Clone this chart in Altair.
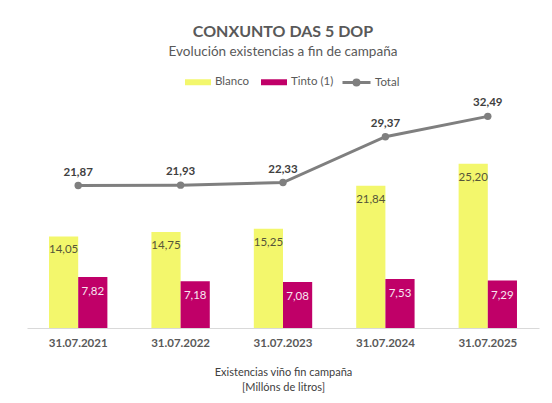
import altair as alt
import pandas as pd

cats = ["31.07.2021", "31.07.2022", "31.07.2023", "31.07.2024", "31.07.2025"]
blanco = [14.05, 14.75, 15.25, 21.84, 25.20]
tinto = [7.82, 7.18, 7.08, 7.53, 7.29]
total = [21.87, 21.93, 22.33, 29.37, 32.49]
series = ["Blanco", "Tinto (1)"]

FONT = "Lato"
GRAY_TXT = "#595959"

bars_df = pd.DataFrame(
    [{"cat": c, "serie": "Blanco", "value": v} for c, v in zip(cats, blanco)]
    + [{"cat": c, "serie": "Tinto (1)", "value": v} for c, v in zip(cats, tinto)]
)
line_df = pd.DataFrame({"cat": cats, "value": total, "s": ["Total"] * len(cats)})

x_enc = alt.X(
    "cat:N",
    sort=cats,
    scale=alt.Scale(paddingInner=0.43, paddingOuter=0.215),
    axis=alt.Axis(
        labelAngle=0,
        labelFont=FONT,
        labelFontWeight="bold",
        labelFontSize=11.5,
        labelColor=GRAY_TXT,
        labelPadding=9,
        domainColor="#D9D9D9",
        domainWidth=1,
        ticks=False,
        grid=False,
        title=["Existencias viño fin campaña", "[Millóns de litros]"],
        titleFont=FONT,
        titleFontWeight="normal",
        titleFontSize=11,
        titleColor="#404040",
        titlePadding=18,
        titleLineHeight=15,
    ),
)
y_enc = alt.Y("value:Q", scale=alt.Scale(domain=[0, 35], nice=False), axis=None)
xoff = alt.XOffset("serie:N", sort=series, scale=alt.Scale(paddingInner=0, paddingOuter=0))

label_expr = "replace(format(datum.value, '.2f'), '.', ',')"

bars = alt.Chart(bars_df).mark_bar().encode(
    x=x_enc,
    y=y_enc,
    xOffset=xoff,
    color=alt.Color(
        "serie:N",
        sort=series,
        scale=alt.Scale(domain=series, range=["#F3F76C", "#C00068"]),
        legend=alt.Legend(
            title=None,
            orient="none",
            direction="horizontal",
            columns=2,
            legendX=158,
            legendY=-31,
            symbolType="M-1,-0.23H1V0.23H-1Z",
            symbolSize=676,
            symbolStrokeWidth=0,
            labelFont=FONT,
            labelFontSize=11.5,
            labelColor=GRAY_TXT,
            labelOffset=4,
            columnPadding=11,
        ),
    ),
)

blanco_txt = (
    alt.Chart(bars_df)
    .transform_filter("datum.serie == 'Blanco'")
    .transform_calculate(label=label_expr)
    .mark_text(dy=14, baseline="middle", font=FONT, fontSize=11.5, color="#55553A")
    .encode(x=x_enc, y=y_enc, xOffset=xoff, text="label:N")
)
tinto_txt = (
    alt.Chart(bars_df)
    .transform_filter("datum.serie == 'Tinto (1)'")
    .transform_calculate(label=label_expr)
    .mark_text(dy=15, baseline="middle", font=FONT, fontSize=11.5, color="#F7E6F0")
    .encode(x=x_enc, y=y_enc, xOffset=xoff, text="label:N")
)

line = alt.Chart(line_df).mark_line(strokeWidth=3).encode(
    x=x_enc,
    y=y_enc,
    stroke=alt.Stroke(
        "s:N",
        scale=alt.Scale(domain=["Total"], range=["#7F7F7F"]),
        legend=alt.Legend(
            title=None,
            orient="none",
            legendX=314,
            legendY=-33,
            symbolType="M-1,0H1M0.18,0A0.18,0.18 0 1,1 -0.18,0A0.18,0.18 0 1,1 0.18,0",
            symbolSize=784,
            symbolStrokeWidth=3,
            symbolStrokeColor="#7F7F7F",
            symbolFillColor="#7F7F7F",
            labelFont=FONT,
            labelFontSize=11.5,
            labelColor=GRAY_TXT,
            labelOffset=3,
        ),
    ),
)
pts = alt.Chart(line_df).mark_circle(size=55, color="#7F7F7F", opacity=1).encode(x=x_enc, y=y_enc)
total_txt = (
    alt.Chart(line_df)
    .transform_calculate(label=label_expr)
    .mark_text(dy=-13, baseline="middle", font=FONT, fontSize=11.5, fontWeight="bold", color="#404040")
    .encode(x=x_enc, y=y_enc, text="label:N")
)

chart = (
    alt.layer(bars, blanco_txt, tinto_txt, line, pts, total_txt)
    .properties(
        width=512,
        height=228,
        autosize=alt.AutoSizeParams(type="none"),
        padding={"left": 19, "top": 92, "right": 5, "bottom": 65},
        title=alt.TitleParams(
            text="CONXUNTO DAS 5 DOP",
            subtitle="Evolución existencias a fin de campaña",
            font=FONT,
            fontSize=16,
            fontWeight="bold",
            color=GRAY_TXT,
            subtitleFont=FONT,
            subtitleFontSize=13.5,
            subtitleColor=GRAY_TXT,
            subtitlePadding=5,
            anchor="middle",
            offset=9,
        ),
    )
    .resolve_scale(color="independent")
    .configure_view(stroke=None)
)

chart.save("out.html", embed_options={"renderer": "svg", "actions": False})
